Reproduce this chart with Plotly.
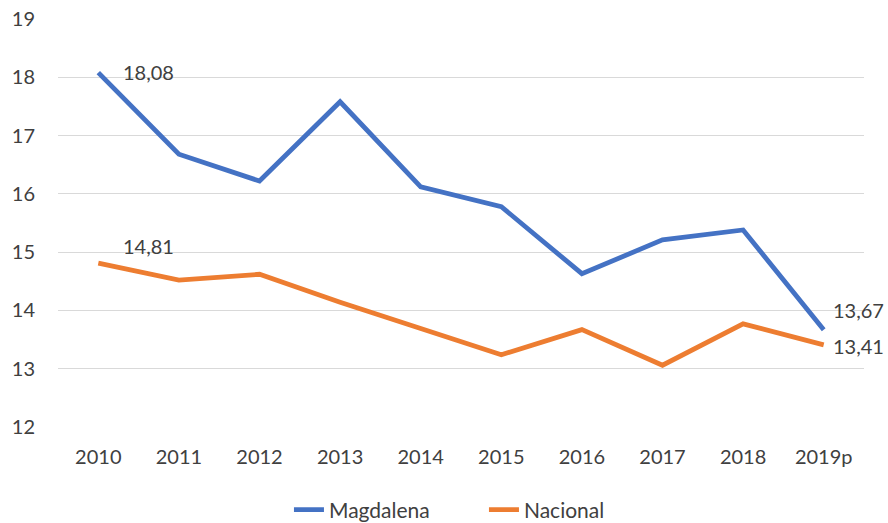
import plotly.graph_objects as go

years = ["2010", "2011", "2012", "2013", "2014", "2015", "2016", "2017", "2018", "2019p"]
magdalena = [18.08, 16.68, 16.22, 17.58, 16.12, 15.78, 14.63, 15.21, 15.38, 13.67]
nacional = [14.81, 14.52, 14.62, 14.14, 13.69, 13.24, 13.67, 13.06, 13.77, 13.41]

BLUE = "#4472C4"
ORANGE = "#ED7D31"
FONT = "Lato, Open Sans, sans-serif"
TXT = "#404040"

fig = go.Figure()
fig.add_trace(go.Scatter(x=years, y=magdalena, mode="lines", name="Magdalena",
                         line=dict(color=BLUE, width=4.8), cliponaxis=False))
fig.add_trace(go.Scatter(x=years, y=nacional, mode="lines", name="Nacional",
                         line=dict(color=ORANGE, width=4.8), cliponaxis=False))

def fmt(v):
    return f"{v:.2f}".replace(".", ",")

first, last = 0, len(years) - 1
ann = [
    dict(x=first, y=magdalena[first], text=fmt(magdalena[first]), xshift=23, yshift=1),
    dict(x=first, y=nacional[first], text=fmt(nacional[first]), xshift=23, yshift=17),
    dict(x=last, y=magdalena[last], text=fmt(magdalena[last]), xshift=7, yshift=20),
    dict(x=last, y=nacional[last], text=fmt(nacional[last]), xshift=7, yshift=-1),
]
for a in ann:
    fig.add_annotation(x=a["x"], y=a["y"], xref="x", yref="y", text=a["text"], showarrow=False,
                       xanchor="left", yanchor="middle", xshift=a["xshift"], yshift=a["yshift"],
                       font=dict(family=FONT, size=20, color=TXT))

fig.update_layout(
    width=888, height=523,
    margin=dict(l=58, r=24, t=19, b=96, autoexpand=False),
    paper_bgcolor="white", plot_bgcolor="white",
    font=dict(family=FONT, size=20, color=TXT),
    xaxis=dict(type="category", showgrid=False, showline=False, ticks="", automargin=False,
               tickfont=dict(size=20, color=TXT), range=[-0.5, 9.5], ticklabelstandoff=16),
    yaxis=dict(range=[12, 19], dtick=1, showgrid=True, gridcolor="#D9D9D9", gridwidth=1.3,
               zeroline=False, showline=False, ticks="", ticklabelstandoff=22, automargin=False,
               tickfont=dict(size=20, color=TXT)),
    legend=dict(orientation="h", x=0.545, xanchor="center", xref="container",
                y=0.025, yanchor="middle", yref="container",
                font=dict(size=21, color=TXT), entrywidth=150, entrywidthmode="pixels"),
    showlegend=True,
)

fig.write_html("out.html", config={"displayModeBar": False},
               post_script="document.body.style.margin='0';document.body.style.overflow='hidden';")
